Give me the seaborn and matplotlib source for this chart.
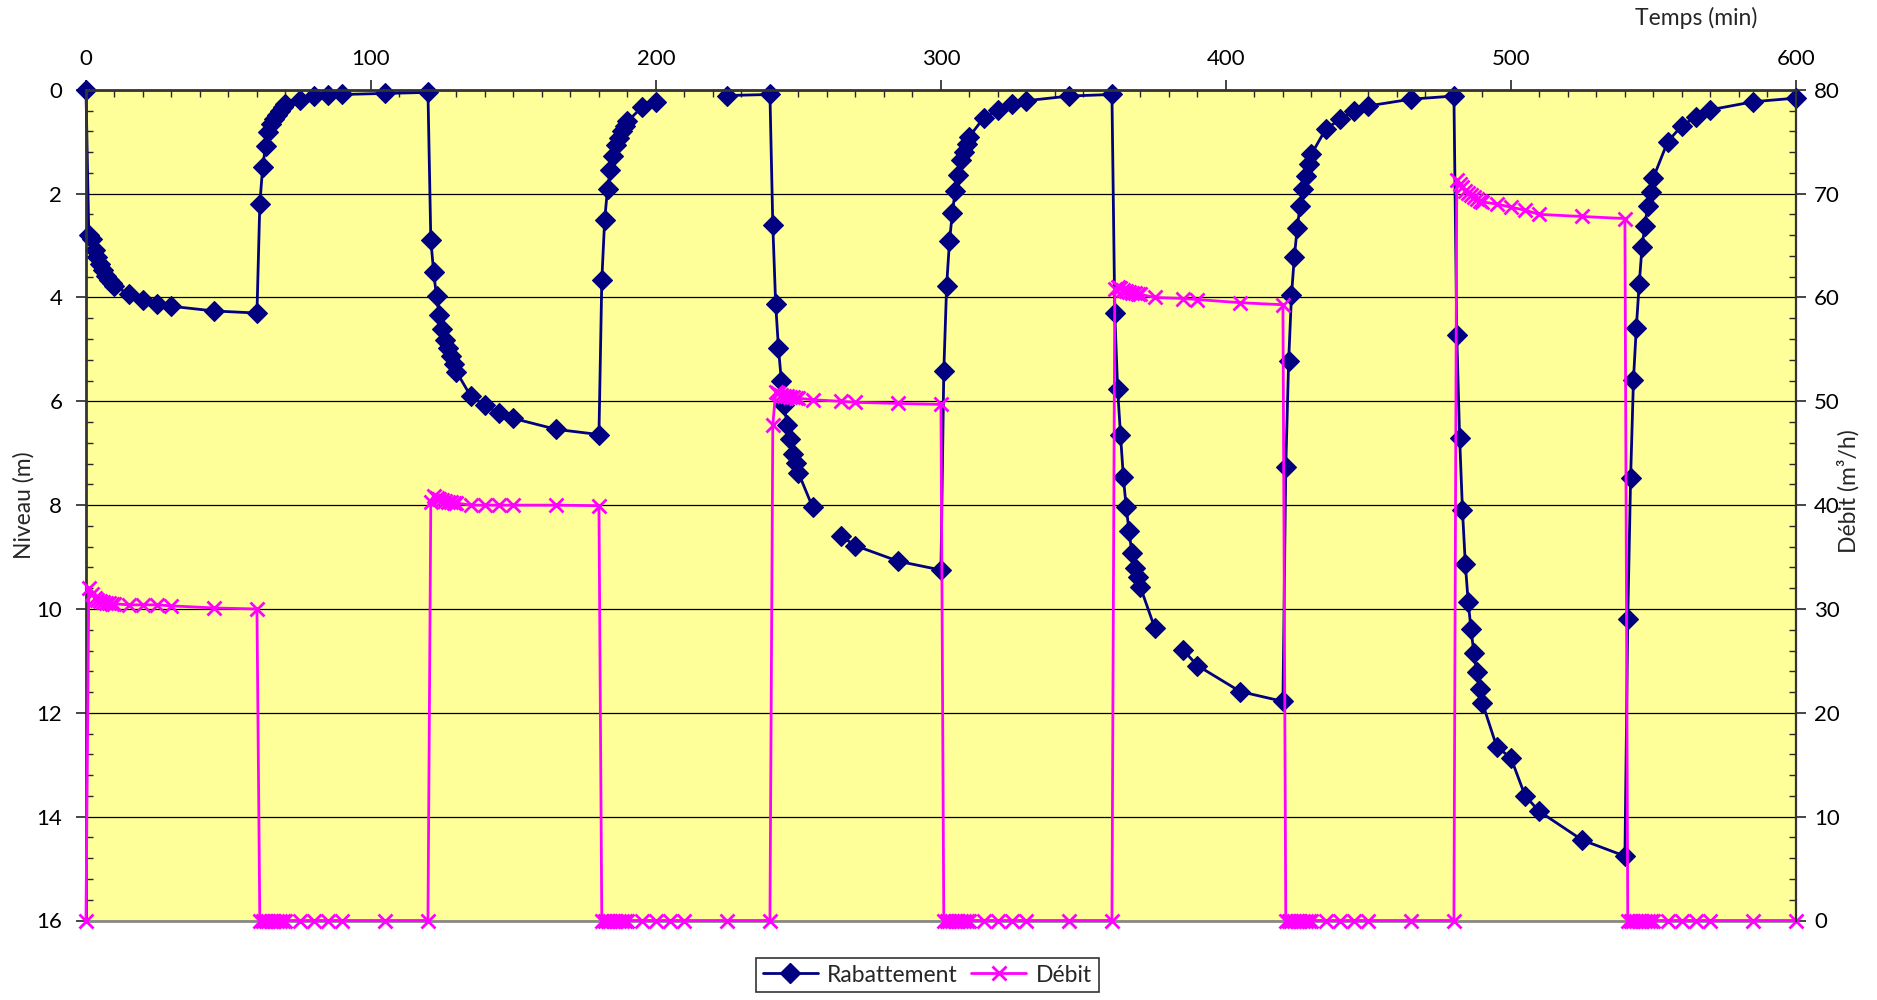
import numpy as np
import pandas as pd
import matplotlib
matplotlib.use("Agg")
import matplotlib.pyplot as plt
from matplotlib.lines import Line2D
from matplotlib.ticker import MultipleLocator
import seaborn as sns

nan = np.nan

# Essai de pompage par paliers : temps (min), rabattement (m) et débit (m3/h)
temps = [
    0, 1, 2, 3, 4, 5, 6, 7, 8, 9, 10, 15, 20, 25, 30, 45, 60,
    61, 62, 63, 64, 65, 66, 67, 68, 69, 70, 75, 80, 85, 90, 105, 120,
    121, 122, 123, 124, 125, 126, 127, 128, 129, 130, 135, 140, 145, 150, 165, 180,
    181, 182, 183, 184, 185, 186, 187, 188, 189, 190, 195, 200, 205, 210, 225, 240,
    241, 242, 243, 244, 245, 246, 247, 248, 249, 250, 255, 260, 265, 270, 285, 300,
    301, 302, 303, 304, 305, 306, 307, 308, 309, 310, 315, 320, 325, 330, 345, 360,
    361, 362, 363, 364, 365, 366, 367, 368, 369, 370, 375, 380, 385, 390, 405, 420,
    421, 422, 423, 424, 425, 426, 427, 428, 429, 430, 435, 440, 445, 450, 465, 480,
    481, 482, 483, 484, 485, 486, 487, 488, 489, 490, 495, 500, 505, 510, 525, 540,
    541, 542, 543, 544, 545, 546, 547, 548, 549, 550, 555, 560, 565, 570, 585, 600,
]

rabattement = [
    0.00, 2.80, 2.87, 3.08, 3.22, 3.36, 3.48, 3.58, 3.66, 3.72, 3.77, 3.94, 4.05, 4.13, 4.17, 4.26, 4.30,
    2.20, 1.49, 1.09, 0.81, 0.66, 0.56, 0.48, 0.40, 0.33, 0.27, 0.19, 0.12, 0.10, 0.09, 0.07, 0.05,
    2.89, 3.51, 3.98, 4.34, 4.60, 4.82, 4.98, 5.12, 5.28, 5.43, 5.90, 6.08, 6.23, 6.33, 6.54, 6.64,
    3.67, 2.51, 1.91, 1.55, 1.27, 1.07, 0.92, 0.80, 0.69, 0.61, 0.34, 0.24, nan, nan, 0.11, 0.09,
    2.60, 4.12, 4.98, 5.60, 6.08, 6.45, 6.73, 7.02, 7.19, 7.38, 8.04, nan, 8.60, 8.78, 9.08, 9.25,
    5.42, 3.77, 2.92, 2.37, 1.95, 1.64, 1.36, 1.19, 1.05, 0.90, 0.54, 0.38, 0.28, 0.21, 0.12, 0.09,
    4.29, 5.77, 6.64, 7.45, 8.04, 8.49, 8.93, 9.21, 9.39, 9.58, 10.36, nan, 10.79, 11.09, 11.59, 11.78,
    7.27, 5.23, 3.96, 3.22, 2.67, 2.24, 1.91, 1.66, 1.43, 1.24, 0.76, 0.57, 0.41, 0.31, 0.18, 0.12,
    4.73, 6.70, 8.10, 9.13, 9.86, 10.39, 10.85, 11.21, 11.54, 11.81, 12.65, 12.87, 13.60, 13.90, 14.45, 14.76,
    10.19, 7.47, 5.58, 4.58, 3.75, 3.03, 2.62, 2.24, 1.96, 1.69, 1.00, 0.69, 0.52, 0.385, 0.23, 0.16,
]

debit = [
    0.0, 32.0, 31.4, 31.1, 30.9, 30.8, 30.7, 30.6, 30.6, 30.5, 30.5, 30.4, 30.4, 30.4, 30.3, 30.1, 30.0,
    0, 0, 0, 0, 0, 0, 0, 0, 0, 0, 0, 0, 0, 0, 0, 0,
    40.3, 40.9, 40.7, 40.6, 40.5, 40.4, 40.3, 40.3, 40.2, 40.2, 40.0, 40.0, 40.0, 40.0, 40.0, 39.95,
    0, 0, 0, 0, 0, 0, 0, 0, 0, 0, 0, 0, 0, 0, 0, 0,
    47.7, 50.9, 50.8, 50.6, 50.5, 50.5, 50.4, 50.4, 50.3, 50.3, 50.15, nan, 50.0, 49.9, 49.8, 49.7,
    0, 0, 0, 0, 0, 0, 0, 0, 0, 0, 0, 0, 0, 0, 0, 0,
    60.8, 61.0, 60.9, 60.7, 60.6, 60.5, 60.4, 60.4, 60.3, 60.3, 60.0, nan, 59.9, 59.8, 59.5, 59.3,
    0, 0, 0, 0, 0, 0, 0, 0, 0, 0, 0, 0, 0, 0, 0, 0,
    71.3, 70.9, 70.6, 70.3, 70.1, 69.9, 69.7, 69.5, 69.3, 69.2, 69.0, 68.7, 68.4, 68.0, 67.8, 67.6,
    0, 0, 0, 0, 0, 0, 0, 0, 0, 0, 0, 0, 0, 0, 0, 0,
]

x_ticks = [0, 100, 200, 300, 400, 500, 600]
niveau_ticks = [0, 2, 4, 6, 8, 10, 12, 14, 16]
debit_ticks = [0, 10, 20, 30, 40, 50, 60, 70, 80]

NAVY = "#000080"
MAGENTA = "#FF00FF"
FOND = "#FFFF99"

sns.set_style("white")
plt.rcParams["font.family"] = ["Lato", "DejaVu Sans"]
plt.rcParams["font.size"] = 16

df = pd.DataFrame({"temps": temps, "rabattement": rabattement, "debit": debit})

# Lacunes de mesure : la courbe de rabattement est coupée aux valeurs manquantes
df["troncon"] = df["rabattement"].isna().cumsum()
df_rab = df.dropna(subset=["rabattement"])
df_deb = df.dropna(subset=["debit"])

fig = plt.figure(figsize=(18.77, 10.0), dpi=100)
fig.subplots_adjust(left=0.0458, right=0.9568, top=0.9102, bottom=0.0795)
ax = fig.add_subplot(111)
ax2 = ax.twinx()

ax.set_facecolor(FOND)
ax2.patch.set_visible(False)
ax.set_axisbelow(True)

sns.lineplot(data=df_rab, x="temps", y="rabattement", units="troncon", estimator=None,
             sort=False, ax=ax, color=NAVY, linewidth=2.0, marker="D", markersize=10,
             markeredgecolor=NAVY, markerfacecolor=NAVY, markeredgewidth=0.8,
             clip_on=False, legend=False)

sns.lineplot(data=df_deb, x="temps", y="debit", estimator=None, sort=False, ax=ax2,
             color=MAGENTA, linewidth=2.0, marker="x", markersize=10,
             markeredgecolor=MAGENTA, markeredgewidth=2.0, clip_on=False, legend=False)

# Axe du temps en haut
ax.set_xlim(0, 600)
ax.set_xticks(x_ticks)
ax.xaxis.set_minor_locator(MultipleLocator(10))
ax.xaxis.tick_top()
ax.tick_params(axis="x", which="major", direction="out", length=7, width=1.2,
               pad=8, labelsize=16, top=True, bottom=False, labeltop=True, labelbottom=False)
ax.tick_params(axis="x", which="minor", direction="in", length=5, width=1.0, top=True, bottom=False)
ax.set_xlabel("")

# Niveau (axe gauche, inversé)
ax.set_ylim(16, 0)
ax.set_yticks(niveau_ticks)
ax.yaxis.set_minor_locator(MultipleLocator(0.4))
ax.tick_params(axis="y", which="major", direction="out", length=7, width=1.2, pad=10,
               labelsize=16, left=True, right=False)
ax.tick_params(axis="y", which="minor", direction="in", length=5, width=1.0, left=True, right=False)
ax.set_ylabel("")
ax.yaxis.grid(True, which="major", color="black", linewidth=0.9)
ax.xaxis.grid(False)

# Débit (axe droit)
ax2.set_ylim(0, 80)
ax2.set_yticks(debit_ticks)
ax2.yaxis.set_minor_locator(MultipleLocator(2))
ax2.tick_params(axis="y", which="major", direction="out", length=7, width=1.2, pad=6,
                labelsize=16, right=True, left=False)
ax2.tick_params(axis="y", which="minor", direction="in", length=5, width=1.0, right=True, left=False)
ax2.set_ylabel("")
ax2.grid(False)

for a in (ax, ax2):
    for s in a.spines.values():
        s.set_visible(False)
for name in ("left", "top"):
    ax.spines[name].set_visible(True)
    ax.spines[name].set_color("#333333")
    ax.spines[name].set_linewidth(2.0)
ax.spines["bottom"].set_visible(True)
ax.spines["bottom"].set_color("#888888")
ax.spines["bottom"].set_linewidth(2.0)
ax2.spines["right"].set_visible(True)
ax2.spines["right"].set_color("#333333")
ax2.spines["right"].set_linewidth(1.6)

for a in (ax, ax2):
    for t in a.get_xticklabels() + a.get_yticklabels():
        t.set_color("black")

fig.text(0.9036, 0.982, "Temps (min)", ha="center", va="center", fontsize=16.5)
fig.text(0.0128, 0.495, "Niveau (m)", ha="center", va="center", rotation=90, fontsize=16.5)
fig.text(0.985, 0.509, "Débit (m³/h)", ha="center", va="center", rotation=90, fontsize=16.5)

handles = [
    Line2D([], [], color=NAVY, linewidth=2.0, marker="D", markersize=10,
           markeredgecolor=NAVY, markerfacecolor=NAVY),
    Line2D([], [], color=MAGENTA, linewidth=2.0, marker="x", markersize=10,
           markeredgecolor=MAGENTA, markeredgewidth=2.0),
]
leg = fig.legend(handles, ["Rabattement", "Débit"], loc="center", bbox_to_anchor=(0.494, 0.025),
                 ncol=2, frameon=True, fancybox=False, edgecolor="black", fontsize=16.5,
                 handlelength=2.4, columnspacing=0.6, handletextpad=0.4, borderpad=0.3)
leg.get_frame().set_linewidth(1.2)

fig.savefig("out.png", dpi=100, facecolor="white")
